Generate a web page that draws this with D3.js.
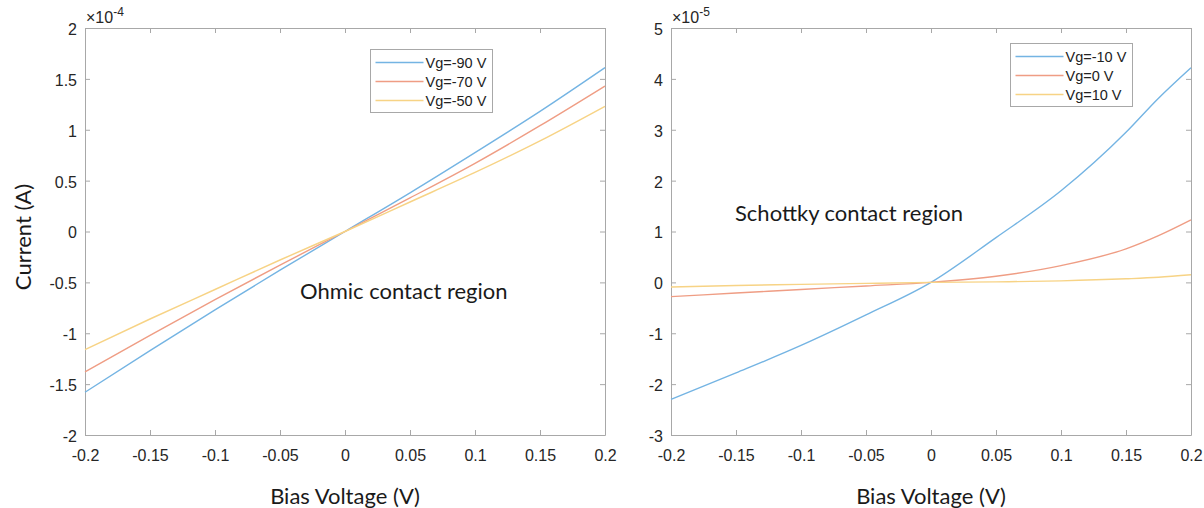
<!DOCTYPE html>
<html>
<head>
<meta charset="utf-8">
<script src="https://cdn.jsdelivr.net/npm/d3@7"></script>
<style>
  body { margin: 0; background: #fff; }
  .tick text { font-family: "Liberation Sans", Arial, sans-serif; font-size: 16px; fill: #262626; }
  .axis path, .axis line { stroke: #a8a8a8; }
  .lbl { font-family: Lato, "Open Sans", sans-serif; font-size: 22px; fill: #1a1a1a; }
  .leg text { font-family: "Liberation Sans", Arial, sans-serif; font-size: 14.5px; fill: #222; }
</style>
</head>
<body>
<div id="chart"></div>
<script>
// bias voltage samples (V)
const voltage = [-0.2, -0.15, -0.1, -0.05, 0, 0.05, 0.1, 0.15, 0.2];

// left panel, current in units of 1e-4 A
const ohmicNames = ["Vg=-90 V", "Vg=-70 V", "Vg=-50 V"];
const ohmicVg90 = [-1.58, -1.17, -0.77, -0.38, 0, 0.38, 0.775, 1.18, 1.61];
const ohmicVg70 = [-1.38, -1.02, -0.67, -0.33, 0, 0.33, 0.67, 1.04, 1.43];
const ohmicVg50 = [-1.16, -0.86, -0.57, -0.28, 0, 0.29, 0.58, 0.89, 1.23];
const ohmicTicks = [-2, -1.5, -1, -0.5, 0, 0.5, 1, 1.5, 2];

// right panel, current in units of 1e-5 A
const schottkyNames = ["Vg=-10 V", "Vg=0 V", "Vg=10 V"];
const schVoltage = [-0.2, -0.15, -0.1, -0.05, 0, 0.05, 0.1, 0.15, 0.175, 0.2];
const schVgm10 = [-2.3, -1.78, -1.24, -0.64, 0, 0.88, 1.8, 2.95, 3.62, 4.22];
const schVg0 = [-0.28, -0.21, -0.14, -0.07, 0, 0.12, 0.33, 0.66, 0.92, 1.23];
const schVg10 = [-0.09, -0.06, -0.04, -0.02, 0, 0.01, 0.03, 0.07, 0.1, 0.15];
const schottkyTicks = [-3, -2, -1, 0, 1, 2, 3, 4, 5];

const xTicks = [-0.2, -0.15, -0.1, -0.05, 0, 0.05, 0.1, 0.15, 0.2];
const colors = ["#74b4e3", "#ef9d84", "#f7d385"];

// plain hyphen minus like matlab
const fmt = d => String(d);

const svg = d3.select("#chart").append("svg")
  .attr("width", 1204).attr("height", 508);

function panel(left, exponent, yDomain, yTicks, xs, series, names, note, legendBox) {
  const top = 28, w = 520, h = 407;
  const g = svg.append("g").attr("transform", `translate(${left},${top})`);
  const x = d3.scaleLinear().domain([-0.2, 0.2]).range([0, w]);
  const y = d3.scaleLinear().domain(yDomain).range([h, 0]);

  // axes, ticks point inward like matlab
  const bx = g.append("g").attr("class", "axis").attr("transform", `translate(0,${h})`)
    .call(d3.axisBottom(x).tickValues(xTicks).tickSizeInner(-5).tickSizeOuter(0).tickFormat(fmt));
  bx.selectAll(".tick text").attr("y", 26).attr("dy", 0);
  g.append("g").attr("class", "axis")
    .call(d3.axisTop(x).tickValues(xTicks).tickSizeInner(-5).tickSizeOuter(0).tickFormat(""));
  const ly = g.append("g").attr("class", "axis")
    .call(d3.axisLeft(y).tickValues(yTicks).tickSizeInner(-5).tickSizeOuter(0).tickFormat(fmt));
  ly.selectAll(".tick text").attr("x", -8).attr("dy", "0.4em");
  g.append("g").attr("class", "axis").attr("transform", `translate(${w},0)`)
    .call(d3.axisRight(y).tickValues(yTicks).tickSizeInner(-5).tickSizeOuter(0).tickFormat(""));

  const line = d3.line().x((d, i) => x(xs[i])).y(d => y(d)).curve(d3.curveMonotoneX);
  series.forEach((s, i) => {
    g.append("path").datum(s).attr("fill", "none")
      .attr("stroke", colors[i]).attr("stroke-width", 1.4).attr("d", line);
  });

  // exponent label
  const ex = g.append("text").attr("x", 1).attr("y", -5)
    .style("font-family", "Liberation Sans, Arial, sans-serif").style("font-size", "16px").attr("fill", "#262626");
  ex.append("tspan").text("\u00d710");
  ex.append("tspan").attr("dy", -7).style("font-size", "12px").text(exponent);

  g.append("text").attr("class", "lbl").attr("x", w / 2).attr("y", 495 - top)
    .attr("text-anchor", "middle").attr("dominant-baseline", "central").text("Bias Voltage (V)");

  g.append("text").attr("class", "lbl").attr("x", note.x - left).attr("y", note.y - top)
    .attr("dominant-baseline", "central").text(note.text);

  // legend
  const lg = g.append("g").attr("class", "leg")
    .attr("transform", `translate(${legendBox.x - left + 0.5},${legendBox.y - top + 0.5})`);
  lg.append("rect").attr("width", legendBox.w).attr("height", 63)
    .attr("fill", "#fff").attr("stroke", "#a8a8a8");
  names.forEach((n, i) => {
    const yy = 13 + i * 19;
    lg.append("line").attr("x1", 5).attr("x2", 53).attr("y1", yy).attr("y2", yy)
      .attr("stroke", colors[i]).attr("stroke-width", 1.3);
    lg.append("text").attr("x", 55).attr("y", yy).attr("dominant-baseline", "central").text(n);
  });
  return g;
}

panel(85, "-4", [-2, 2], ohmicTicks, voltage, [ohmicVg90, ohmicVg70, ohmicVg50], ohmicNames,
  { x: 300, y: 290, text: "Ohmic contact region" }, { x: 370, y: 49, w: 122 });
panel(671, "-5", [-3, 5], schottkyTicks, schVoltage, [schVgm10, schVg0, schVg10], schottkyNames,
  { x: 735, y: 212, text: "Schottky contact region" }, { x: 1010, y: 43, w: 122 });

svg.append("text").attr("class", "lbl")
  .attr("transform", "translate(22,237) rotate(-90)")
  .attr("text-anchor", "middle").attr("dominant-baseline", "central").text("Current (A)");
</script>
</body>
</html>
